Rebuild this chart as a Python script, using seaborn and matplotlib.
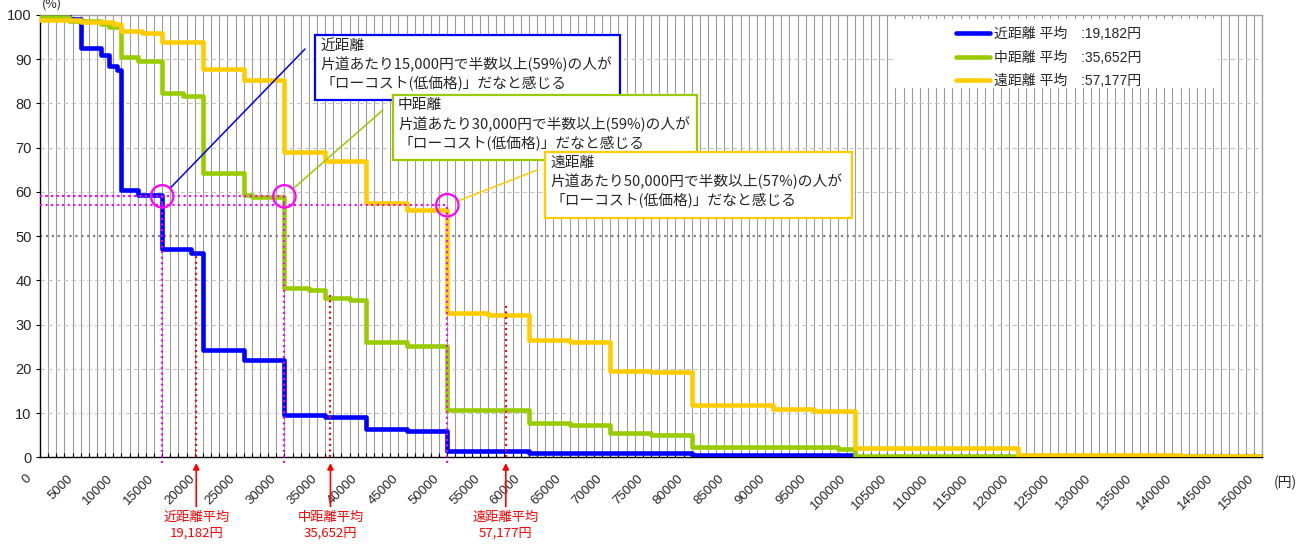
import matplotlib.pyplot as plt
import matplotlib.patches as mpatches
from matplotlib.lines import Line2D
from matplotlib.transforms import ScaledTranslation
import numpy as np
import pandas as pd
import seaborn as sns

# step curves: price (yen, one way) where a level starts, share of people (%)
near_x = [0, 3500, 5000, 7500, 8500, 9500, 10000, 12000, 15000, 18500, 20000, 25000,
          30000, 35000, 40000, 45000, 50000, 60000, 80000, 100000, 150000]
near_y = [100, 99, 92.5, 91, 88.5, 87.5, 60.5, 59.3, 47.1, 46.3, 24.3, 22.0,
          9.5, 9.0, 6.5, 6.0, 1.4, 1.0, 0.6, 0, 0]

mid_x = [0, 3500, 7500, 8500, 10000, 12000, 15000, 17500, 20000, 25000, 26000, 30000,
         33000, 35000, 38000, 40000, 45000, 50000, 60000, 65000, 70000, 75000, 80000,
         98000, 100000, 150000]
mid_y = [99.5, 98.7, 98.0, 97.3, 90.4, 89.5, 82.4, 81.6, 64.2, 59.3, 58.8, 38.3,
         37.9, 36.0, 35.6, 26.0, 25.2, 10.7, 7.8, 7.4, 5.5, 5.1, 2.3,
         1.8, 0.3, 0.3]

far_x = [0, 5000, 9000, 10000, 12500, 15000, 20000, 25000, 30000, 35000, 40000, 45000,
         50000, 55000, 60000, 65000, 70000, 75000, 80000, 90000, 95000, 100000, 120000,
         140000, 150000]
far_y = [98.9, 98.5, 98.0, 96.4, 95.9, 94.0, 87.8, 85.3, 69.1, 67.0, 57.5, 55.9,
         32.7, 32.2, 26.5, 26.0, 19.6, 19.2, 11.8, 10.9, 10.5, 2.0, 0.6,
         0.2, 0.2]

names = ["近距離", "中距離", "遠距離"]
means = [19182, 35652, 57177]
mean_top = [46.5, 36.7, 34.1]
colors = ["#0000ff", "#99cc00", "#ffcc00"]

# "half or more feel it's low cost" points
thr_x = [15000, 30000, 50000]
thr_y = [59, 59, 57]
thr_label = ["15,000", "30,000", "50,000"]
thr_pct = ["59", "59", "57"]

W, H = 1309, 544
sns.set_theme(style="white")
plt.rcParams['font.family'] = ['Liberation Sans', 'Noto Sans CJK JP']
JP = ['Noto Sans CJK JP', 'DejaVu Sans']


def px(x, y):
    return (x / W, 1 - y / H)


fig = plt.figure(figsize=(W / 100, H / 100), dpi=100)
ax = fig.add_axes([40 / W, (H - 457.3) / H, 1222 / W, 442.3 / H])

# grid
ax.vlines(np.arange(1000, 150001, 1000), 0, 100, colors="#9c9c9c", lw=0.8, zorder=0.5)
for g in range(10, 100, 10):
    if g == 50:
        ax.axhline(g, color="#808080", lw=1.6, ls=":", zorder=0.6)
    else:
        ax.axhline(g, color="#c4c4c4", lw=0.8, ls=(0, (4, 3)), zorder=0.6)

labels = [f"{n} 平均　:{m:,}円" for n, m in zip(names, means)]
frames = []
for lab, xs, ys in zip(labels, [near_x, mid_x, far_x], [near_y, mid_y, far_y]):
    frames.append(pd.DataFrame({"price": xs, "pct": ys, "series": lab}))
df = pd.concat(frames, ignore_index=True)

sns.lineplot(data=df, x="price", y="pct", hue="series", hue_order=labels,
             palette=colors, estimator=None, drawstyle="steps-post",
             linewidth=3.3, legend=False, ax=ax, zorder=3)

# threshold guides
ax.hlines(thr_y, 0, thr_x, colors="#ff00ff", linestyles=":", lw=1.5, zorder=4)
ax.vlines(thr_x, -1.3, thr_y, colors="#ff00ff", linestyles=":", lw=1.5, zorder=4,
          clip_on=False)
ax.scatter(thr_x, thr_y, s=260, facecolors="none", edgecolors="#ff00ff",
           linewidths=1.6, zorder=5)

# mean markers
ax.vlines(means, 0, mean_top, colors="red", linestyles=":", lw=1.5, zorder=4)
for n, m in zip(names, means):
    ax.annotate(f"{n}平均\n{m:,}円", xy=(m, -0.013), xycoords=("data", "axes fraction"),
                xytext=(m, -0.122), textcoords=("data", "axes fraction"),
                ha="center", va="top", color="red", fontsize=9.5, family=JP,
                linespacing=1.25, annotation_clip=False,
                arrowprops=dict(arrowstyle="-|>", color="red", lw=1.2, shrinkA=1,
                                shrinkB=0, mutation_scale=9, relpos=(0.5, 1.0)))

# callout boxes
boxes = [(315, 35, 620, 100), (393, 95, 697, 160), (545, 152, 852, 218)]
anchors = [(305, 49), (383, 110), (537, 170)]
for i, (n, c, b, a) in enumerate(zip(names, colors, boxes, anchors)):
    x0, y0, x1, y1 = b
    ax.add_patch(mpatches.Rectangle(px(x0, y1), (x1 - x0) / W, (y1 - y0) / H,
                                    transform=fig.transFigure, facecolor="white",
                                    edgecolor=c, lw=1.6, zorder=6 + i, clip_on=False))
    txt = f"{n}\n片道あたり{thr_label[i]}円で半数以上({thr_pct[i]}%)の人が\n「ローコスト(低価格)」だなと感じる"
    ax.text(*px(x0 + 5, y0 + 3.5), txt, transform=fig.transFigure, ha="left", va="top",
            fontsize=10.6, family=JP, linespacing=1.3, zorder=6.5 + i)
    ax.annotate("", xy=(thr_x[i], thr_y[i]), xycoords="data", xytext=px(*a),
                textcoords="figure fraction", annotation_clip=False,
                arrowprops=dict(arrowstyle="-", color=c, lw=1.1, shrinkA=0, shrinkB=8))

# legend on a white patch
ax.add_patch(mpatches.Rectangle(px(893, 88), 325 / W, 69 / H, transform=fig.transFigure,
                                facecolor="white", edgecolor="none", zorder=2))
handles = [Line2D([], [], color=c, lw=3.3) for c in colors]
ax.legend(handles, labels, loc="upper left", bbox_to_anchor=px(956, 27),
          bbox_transform=fig.transFigure, frameon=False, fontsize=10,
          handlelength=2.45, handletextpad=0.3, labelspacing=0.68,
          borderaxespad=0, borderpad=0)

# axes
ax.set_xlim(0, 150000)
ax.set_ylim(0, 100)
ax.set_xlabel("")
ax.set_ylabel("")
ax.set_xticks(np.arange(0, 150001, 5000))
ax.set_xticks(np.arange(0, 150001, 1000), minor=True)
ax.set_xticklabels([str(v) for v in range(0, 150001, 5000)], rotation=45,
                   ha="right", va="center", rotation_mode="anchor", fontsize=9.5)
ax.tick_params(axis="x", which="both", direction="in", length=3, width=0.8,
               color="black", pad=14, bottom=True)
off = ScaledTranslation(-10 / 100, 0, fig.dpi_scale_trans)
for lab in ax.get_xticklabels():
    lab.set_transform(lab.get_transform() + off)
ax.set_yticks(range(0, 101, 10))
ax.tick_params(axis="y", direction="out", length=3, width=0.8, color="black",
               labelsize=10.5, pad=3, left=True)
ax.grid(False)
for s in ["left", "bottom"]:
    ax.spines[s].set_color("black")
    ax.spines[s].set_linewidth(1.0)
for s in ["top", "right"]:
    ax.spines[s].set_color("#a0a0a0")
    ax.spines[s].set_linewidth(1.0)

fig.text(*px(52, 4), "(%)", ha="center", va="center", fontsize=9, family=JP)
fig.text(*px(1285, 483), "(円)", ha="center", va="center", fontsize=10, family=JP)

fig.savefig("out.png", dpi=100)
